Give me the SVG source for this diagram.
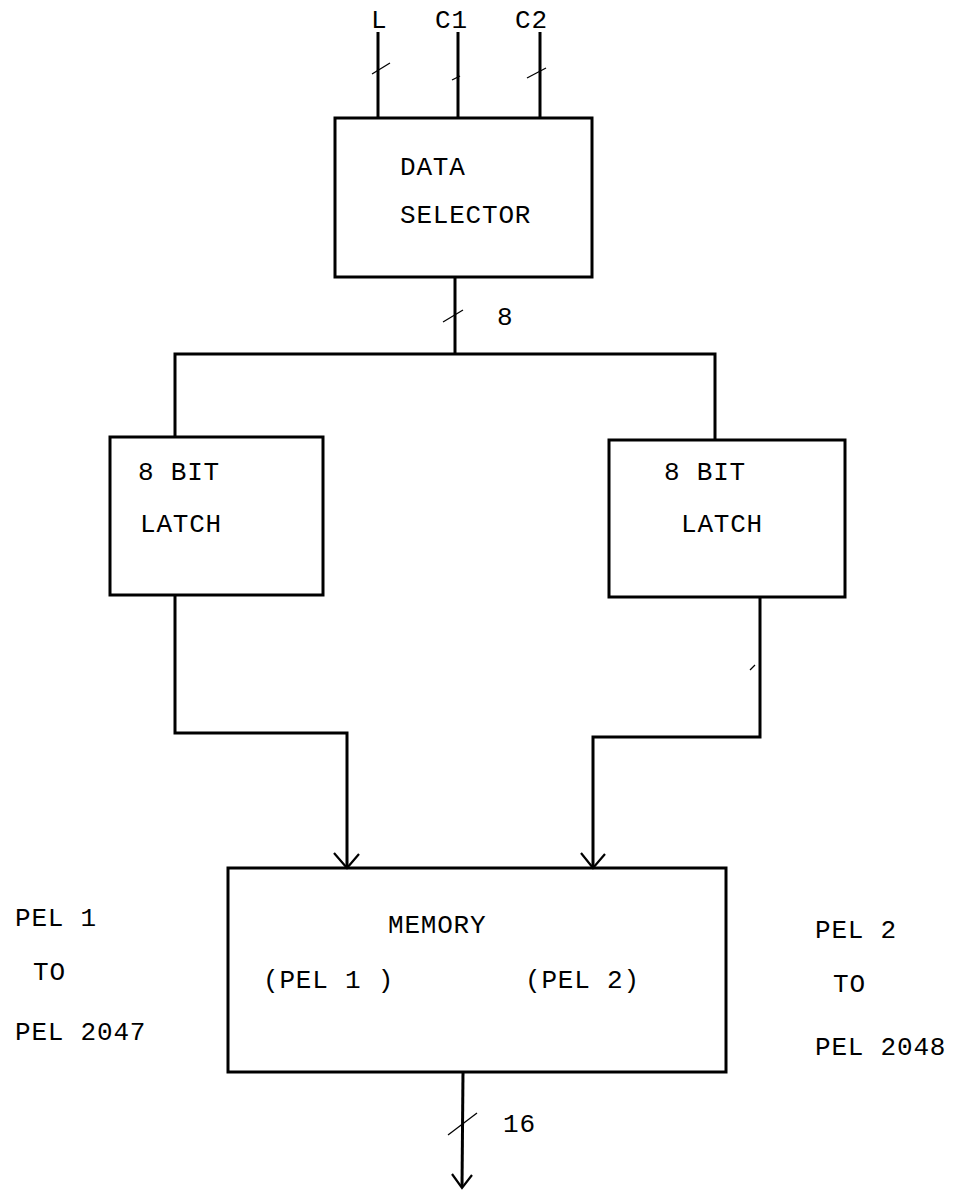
<svg xmlns="http://www.w3.org/2000/svg" width="953" height="1193" viewBox="0 0 953 1193">
<style>
.box{fill:none;stroke:#000;stroke-width:3}
.ln{fill:none;stroke:#000;stroke-width:3;stroke-linejoin:miter}
.sl{fill:none;stroke:#000;stroke-width:1.3}
.ar{fill:none;stroke:#000;stroke-width:2.2}
text{font-family:"Liberation Mono","DejaVu Sans Mono",monospace;font-size:26px;fill:#000;letter-spacing:0.8px}
</style>
<rect width="953" height="1193" fill="#fff"/>
<g id="inputs">
<text x="371" y="28">L</text>
<text x="435" y="28">C1</text>
<text x="515" y="28">C2</text>
</g>
<g id="data-selector">
<rect class="box" x="335" y="118" width="257" height="159"/>
<text x="400" y="175">DATA</text>
<text x="400" y="223">SELECTOR</text>
</g>
<g id="latch-left">
<rect class="box" x="110" y="437" width="213" height="158"/>
<text x="138" y="480">8 BIT</text>
<text x="140" y="532">LATCH</text>
</g>
<g id="latch-right">
<rect class="box" x="609" y="440" width="236" height="157"/>
<text x="664" y="480">8 BIT</text>
<text x="681" y="532">LATCH</text>
</g>
<g id="memory">
<rect class="box" x="228" y="868" width="498" height="204"/>
<text x="388" y="933">MEMORY</text>
<text x="263" y="988">(PEL 1 )</text>
<text x="525" y="988">(PEL 2)</text>
</g>
<g id="label-left">
<text x="15" y="926">PEL 1</text>
<text x="33" y="980">TO</text>
<text x="15" y="1040">PEL 2047</text>
</g>
<g id="label-right">
<text x="815" y="938">PEL 2</text>
<text x="833" y="992">TO</text>
<text x="815" y="1055">PEL 2048</text>
</g>
<g id="connectors">
<line class="ln" x1="378" y1="32" x2="378" y2="118"/>
<line class="ln" x1="458" y1="32" x2="458" y2="118"/>
<line class="ln" x1="540" y1="32" x2="540" y2="118"/>
<line class="sl" x1="372" y1="74" x2="390" y2="63"/>
<line class="sl" x1="452" y1="80" x2="460" y2="76"/>
<line class="sl" x1="527" y1="78" x2="546" y2="68"/>
<line class="ln" x1="455" y1="277" x2="455" y2="354"/>
<line class="sl" x1="443" y1="322" x2="463" y2="310"/>
<text x="497" y="325">8</text>
<polyline class="ln" points="175,437 175,354 715,354 715,440"/>
<polyline class="ln" points="175,595 175,733 347,733 347,867"/>
<polyline class="ln" points="760,597 760,737 593,737 593,867"/>
<polyline class="ar" points="334,853 347,868 359,854"/>
<polyline class="ar" points="581,853 593,868 605,854"/>
<line class="sl" x1="750" y1="670" x2="755" y2="665"/>
<line class="ln" x1="463" y1="1072" x2="462" y2="1187"/>
<line class="sl" x1="448" y1="1135" x2="477" y2="1113"/>
<text x="503" y="1132">16</text>
<polyline class="ar" points="452,1174 462,1188 472,1175"/>
</g>
</svg>
